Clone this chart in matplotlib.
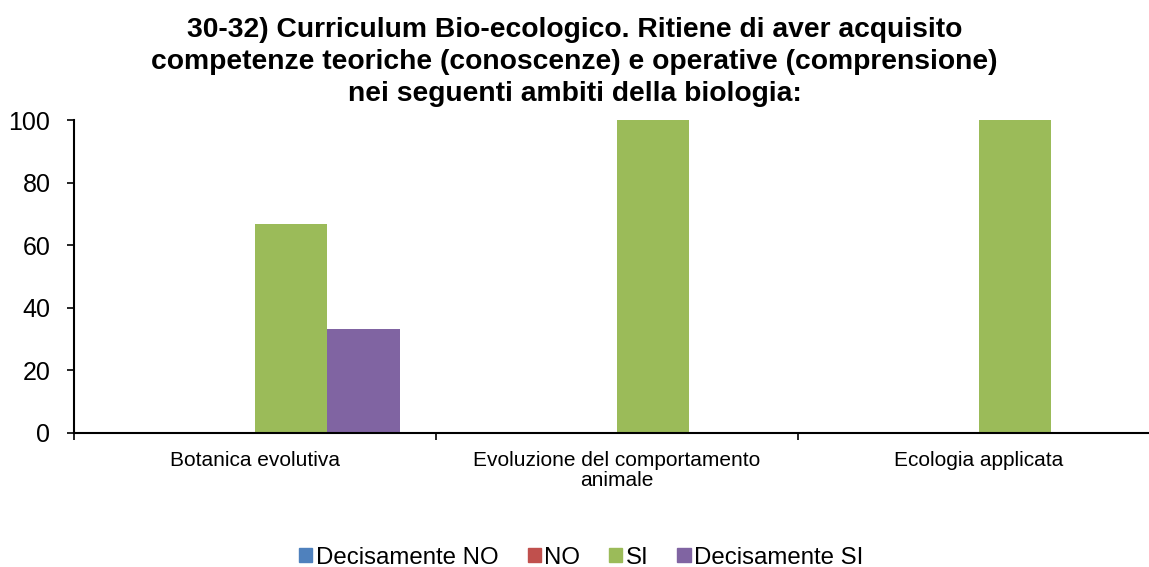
import numpy as np
import matplotlib.pyplot as plt
from matplotlib.patches import Patch

plt.rcParams['font.family'] = ['Liberation Sans', 'DejaVu Sans']

# data
categories = ['Botanica evolutiva', 'Evoluzione del comportamento\nanimale', 'Ecologia applicata']
series_names = ['Decisamente NO', 'NO', 'SI', 'Decisamente SI']
dec_no = [0, 0, 0]
no = [0, 0, 0]
si = [66.7, 100, 100]
dec_si = [33.3, 0, 0]
colors = ['#4F81BD', '#C0504D', '#9BBB59', '#8064A2']

title_lines = ['30-32) Curriculum Bio-ecologico. Ritiene di aver acquisito',
               'competenze teoriche (conoscenze) e operative (comprensione)',
               'nei seguenti ambiti della biologia:']

fig = plt.figure(figsize=(11.49, 5.67), dpi=100)
ax = fig.add_axes([74/1149, 134/567, 1086/1149, 313/567])

x = np.arange(len(categories))
w = 0.2
all_series = [dec_no, no, si, dec_si]
for i, vals in enumerate(all_series):
    ax.bar(x + (i - 1.5) * w, vals, width=w, color=colors[i], label=series_names[i])

ax.set_xlim(-0.5, 2.5)
ax.set_ylim(0, 100)
ax.set_yticks(range(0, 101, 20))
ax.tick_params(axis='y', labelsize=18, length=5, width=1.2, direction='out', pad=12)

ax.set_xticks(x)
ax.set_xticklabels(categories, fontsize=15, linespacing=1.05)
ax.tick_params(axis='x', length=0, pad=13)
ax.set_xticks([-0.5, 0.5, 1.5, 2.5], minor=True)
ax.tick_params(axis='x', which='minor', length=5, width=1.2, direction='out')

for s in ['top', 'right']:
    ax.spines[s].set_visible(False)
ax.spines['left'].set_linewidth(1.5)
ax.spines['bottom'].set_linewidth(1.5)

# title, one line at a time
for line, base in zip(title_lines, [37, 69, 101]):
    fig.text(0.5, 1 - base/567, line, ha='center', va='baseline', fontsize=20.3,
             fontweight='bold')

handles = [Patch(color=c) for c in colors]
fig.legend(handles, series_names, loc='lower center', bbox_to_anchor=(0.506, -0.041),
           ncol=4, frameon=False, fontsize=17.3, handlelength=0.55, handleheight=0.55,
           handletextpad=0.15, columnspacing=1.2)

fig.savefig('out.png', dpi=100)
